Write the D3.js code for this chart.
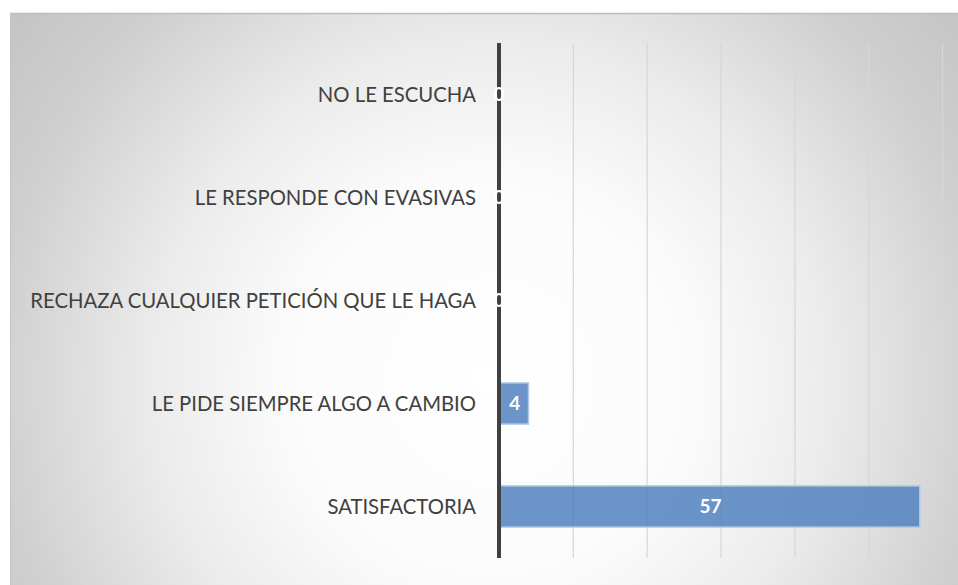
<!DOCTYPE html>
<html>
<head>
<meta charset="utf-8">
<script src="https://cdn.jsdelivr.net/npm/d3@7"></script>
<style>
  body { margin: 0; background: #ffffff; }
  svg { display: block; }
  .cat text { font-family: Lato, "Open Sans", sans-serif; font-size: 20.3px; fill: #404040; }
</style>
</head>
<body>
<div id="chart"></div>
<script>
// data, top to bottom as in the chart
var categories = ["NO LE ESCUCHA", "LE RESPONDE CON EVASIVAS", "RECHAZA CUALQUIER PETICIÓN QUE LE HAGA",
                  "LE PIDE SIEMPRE ALGO A CAMBIO", "SATISFACTORIA"];
var values = [0, 0, 0, 4, 57];
var gridTicks = [0, 10, 20, 30, 40, 50, 60];

var W = 958, H = 585;
var box = {left: 10, top: 13};

var svg = d3.select("#chart").append("svg")
  .attr("width", W)
  .attr("height", H);

var defs = svg.append("defs");

// chart area background: soft radial gradient
var bg = defs.append("radialGradient")
  .attr("id", "bg")
  .attr("gradientUnits", "userSpaceOnUse")
  .attr("cx", 490).attr("cy", 380).attr("r", 620);
bg.append("stop").attr("offset", "0%").attr("stop-color", "#ffffff");
bg.append("stop").attr("offset", "33%").attr("stop-color", "#fbfbfb");
bg.append("stop").attr("offset", "55%").attr("stop-color", "#ebebeb");
bg.append("stop").attr("offset", "80%").attr("stop-color", "#cfcfcf");
bg.append("stop").attr("offset", "100%").attr("stop-color", "#c2c2c2");

// gridlines fade from light at top to darker at bottom
var gg = defs.append("linearGradient")
  .attr("id", "grid")
  .attr("gradientUnits", "userSpaceOnUse")
  .attr("x1", 0).attr("y1", 43).attr("x2", 0).attr("y2", 558);
gg.append("stop").attr("offset", "0%").attr("stop-color", "#d6d6d6");
gg.append("stop").attr("offset", "100%").attr("stop-color", "#9a9a9a");

svg.append("rect")
  .attr("x", box.left).attr("y", box.top)
  .attr("width", W - box.left).attr("height", H - box.top)
  .attr("fill", "url(#bg)");
svg.append("line")
  .attr("x1", box.left).attr("x2", W)
  .attr("y1", box.top + 0.5).attr("y2", box.top + 0.5)
  .attr("stroke", "#bdbdbd").attr("stroke-width", 1.5);
svg.append("line")
  .attr("x1", box.left + 0.5).attr("x2", box.left + 0.5)
  .attr("y1", box.top).attr("y2", H)
  .attr("stroke", "#c4c4c4").attr("stroke-width", 1);

// scales
var x = d3.scaleLinear().domain([0, 60]).range([499, 942]);
var y = d3.scaleBand().domain(categories).range([43, 558])
  .paddingInner(0.6).paddingOuter(0.3);

// vertical gridlines
var grid = svg.append("g")
  .attr("transform", "translate(0,558)")
  .call(d3.axisBottom(x).tickValues(gridTicks.slice(1)).tickSize(-515).tickFormat(""));
grid.select(".domain").remove();
grid.selectAll(".tick line")
  .attr("stroke", "url(#grid)")
  .attr("stroke-width", 1.2);

// bars
svg.append("g").selectAll("rect")
  .data(values)
  .join("rect")
  .attr("x", x(0))
  .attr("y", function(d, i) { return y(categories[i]); })
  .attr("width", function(d) { return x(d) - x(0); })
  .attr("height", y.bandwidth())
  .attr("fill", "#4f81bd")
  .attr("fill-opacity", 0.84)
  .attr("stroke", "#b4cbe8")
  .attr("stroke-width", function(d) { return d > 0 ? 1.5 : 0; });

// category axis
var yAxis = svg.append("g")
  .attr("class", "cat")
  .attr("transform", "translate(" + x(0) + ",0)")
  .call(d3.axisLeft(y).tickSize(0).tickPadding(23));
yAxis.select(".domain").remove();
yAxis.selectAll("text").attr("dy", "0.35em");

svg.append("line")
  .attr("x1", x(0)).attr("x2", x(0))
  .attr("y1", 43).attr("y2", 558)
  .attr("stroke", "#404040")
  .attr("stroke-width", 4);

// data labels
svg.append("g").selectAll("text")
  .data(values)
  .join("text")
  .attr("x", function(d) { return d > 0 ? (x(0) + x(d)) / 2 + 1 : x(0); })
  .attr("y", function(d, i) { return y(categories[i]) + y.bandwidth() / 2; })
  .attr("dy", "0.36em")
  .attr("text-anchor", "middle")
  .style("font-family", "Lato, 'Open Sans', sans-serif")
  .style("font-weight", "bold")
  .style("font-size", "19px")
  .attr("fill", "#ffffff")
  .text(function(d) { return d; });
</script>
</body>
</html>
